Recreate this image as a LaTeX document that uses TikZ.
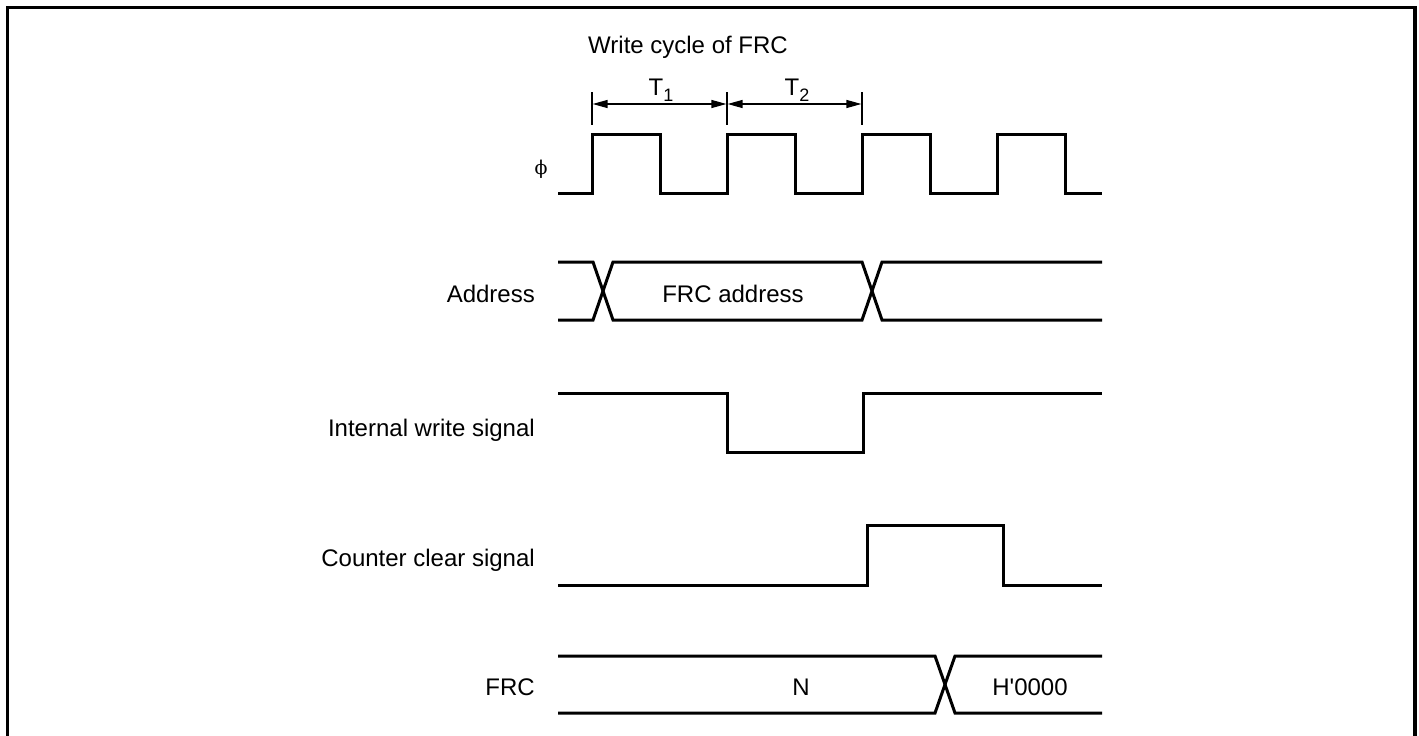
\documentclass[tikz,border=0pt]{standalone}
\usepackage{fontspec}
\setmainfont{Liberation Sans}
\newfontfamily\plainfont{Liberation Sans}
\newfontfamily\phifont{DejaVu Serif}
\usetikzlibrary{arrows.meta}
\begin{document}
\begin{tikzpicture}[x=1pt,y=-1pt,
  lbl/.style={font=\plainfont\fontsize{24}{28}\selectfont, inner sep=0pt},
  sig/.style={line width=3pt, line join=miter},
  thin/.style={line width=1.3pt},
  dim/.style={line width=1.3pt, {Triangle[length=15pt,width=8pt]}-{Triangle[length=15pt,width=8pt]}, shorten <=0.6pt, shorten >=0.6pt},
  frame/.style={line width=3.5pt}]
\useasboundingbox (0,0) rectangle (1419,736);
\draw[frame] (7.5,745) -- (7.5,7.5) -- (1415,7.5) -- (1415,745);

% title
\node[lbl, anchor=base west] (title) at (588,53) {Write cycle of FRC};

% tick marks and dimension arrows
\coordinate (t0a) at (592,92); \coordinate (t0b) at (592,125);
\coordinate (t1a) at (727,92); \coordinate (t1b) at (727,125);
\coordinate (t2a) at (862,92); \coordinate (t2b) at (862,125);
\draw[thin] (t0a) -- (t0b);
\draw[thin] (t1a) -- (t1b);
\draw[thin] (t2a) -- (t2b);
\coordinate (a0) at (592,104); \coordinate (a1) at (727,104); \coordinate (a2) at (862,104);
\draw[dim] (a0) -- (a1);
\draw[dim] (a1) -- (a2);
\node[lbl, anchor=base] (T1) at (661,95) {T\raisebox{-6pt}{\fontsize{18}{18}\selectfont 1}};
\node[lbl, anchor=base] (T2) at (797,95) {T\raisebox{-6pt}{\fontsize{18}{18}\selectfont 2}};

% signal labels
\node[inner sep=0pt, font=\phifont\fontsize{19}{22}\selectfont] (lphi) at (541,169) {ϕ};
\node[lbl, anchor=base east] (laddr) at (535,302) {Address};
\node[lbl, anchor=base east] (lwr) at (535,436) {Internal write signal};
\node[lbl, anchor=base east] (lclr) at (535,566) {Counter clear signal};
\node[lbl, anchor=base east] (lfrc) at (535,695) {FRC};

% phi clock
\draw[sig] (558,193) -- (592,193) -- (592,134) -- (660,134) -- (660,193)
  -- (727,193) -- (727,134) -- (795,134) -- (795,193)
  -- (862,193) -- (862,134) -- (930,134) -- (930,193)
  -- (997,193) -- (997,134) -- (1065,134) -- (1065,193) -- (1102,193);

% address bus
\draw[sig] (558,262) -- (593,262) -- (613,320) -- (862,320) -- (882,262) -- (1102,262);
\draw[sig] (558,320) -- (593,320) -- (613,262) -- (862,262) -- (882,320) -- (1102,320);
\node[lbl, anchor=base] (faddr) at (733,302) {FRC address};

% internal write signal
\draw[sig] (558,393) -- (727,393) -- (727,452) -- (863,452) -- (863,393) -- (1102,393);

% counter clear signal
\draw[sig] (558,585) -- (867,585) -- (867,525) -- (1003,525) -- (1003,585) -- (1102,585);

% FRC bus
\draw[sig] (558,656) -- (935,656) -- (955,713) -- (1102,713);
\draw[sig] (558,713) -- (935,713) -- (955,656) -- (1102,656);
\node[lbl, anchor=base] (vN) at (801,695) {N};
\node[lbl, anchor=base] (v0) at (1030,695) {H'0000};
\end{tikzpicture}
\end{document}
